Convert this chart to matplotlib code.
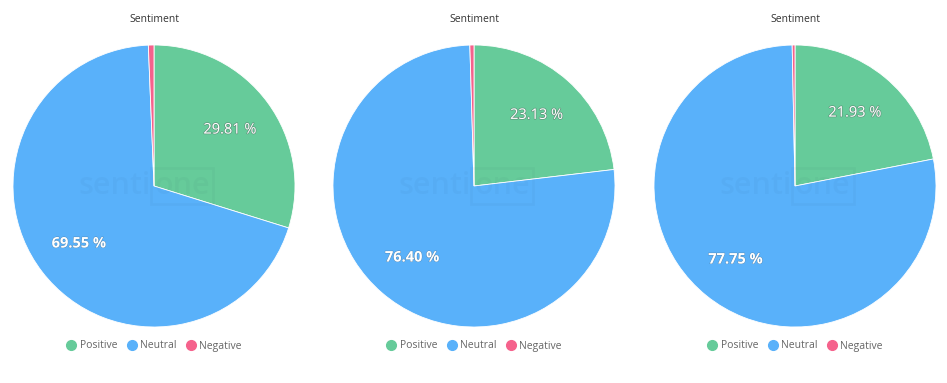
import math
import matplotlib
matplotlib.use("Agg")
import matplotlib.pyplot as plt
from matplotlib.lines import Line2D
import matplotlib.patheffects as pe

plt.rcParams['font.family'] = ['Open Sans', 'DejaVu Sans']

# dane
categories = ["Positive", "Neutral", "Negative"]
colors = ["#66CB9A", "#59B1FA", "#F5628C"]
panel_values = [
    [29.81, 69.55, 0.64],
    [23.13, 76.40, 0.47],
    [21.93, 77.75, 0.32],
]
title = "Sentiment"

W, H = 947, 383
fig = plt.figure(figsize=(W / 100, H / 100), dpi=100)

centers_x = [154, 474, 795]
cy, r = 186, 141

for cx, vals in zip(centers_x, panel_values):
    ax = fig.add_axes([(cx - r) / W, (H - cy - r) / H, 2 * r / W, 2 * r / H])
    ax.pie(vals, colors=colors, startangle=90, counterclock=False,
           wedgeprops=dict(edgecolor="white", linewidth=0.6))
    ax.set_xlim(-1, 1)
    ax.set_ylim(-1, 1)
    ax.set_aspect("equal")

    # etykiety procentowe (bez najmniejszego wycinka)
    start = 90.0
    for i, v in enumerate(vals):
        mid = start - 360.0 * v / 100 / 2
        start -= 360.0 * v / 100
        if v < 5:
            continue
        d = 0.67
        x, y = d * math.cos(math.radians(mid)), d * math.sin(math.radians(mid))
        if i == 0:
            ax.text(x, y, f"{v:.2f} %", ha="center", va="center", color="white",
                    fontsize=10.5, fontweight="normal",
                    path_effects=[pe.withStroke(linewidth=1.0, foreground="#555555",
                                                alpha=0.45)])
        else:
            ax.text(x, y, f"{v:.2f} %", ha="center", va="center", color="white",
                    fontsize=10.5, fontweight="bold",
                    path_effects=[pe.withStroke(linewidth=0.6, foreground="#444444",
                                                alpha=0.4)])

    # znak wodny
    ax.text(-0.02, 0.0, "senti", ha="right", va="center", fontsize=22,
            color="#1a3a5a", alpha=0.035, fontweight="semibold")
    ax.text(0.0, 0.0, "one", ha="left", va="center", fontsize=22,
            color="#1a3a5a", alpha=0.035, fontweight="semibold",
            bbox=dict(boxstyle="square,pad=0.1", fc="none", ec="#1a3a5a",
                      alpha=0.035, lw=2))

    fig.text(cx / W, 1 - 19 / H, title, ha="center", va="center",
             fontsize=7.5, color="#333333")

    handles = [Line2D([], [], marker="o", linestyle="", markersize=7,
                      markerfacecolor=c, markeredgecolor=c) for c in colors]
    fig.legend(handles, categories, loc="center", ncol=3,
               bbox_to_anchor=(cx / W, 1 - 346 / H), frameon=False,
               fontsize=7.5, labelcolor="#666666", handletextpad=0.3,
               columnspacing=0.9, handlelength=1.0)

fig.savefig("out.png", dpi=100, facecolor="white")
